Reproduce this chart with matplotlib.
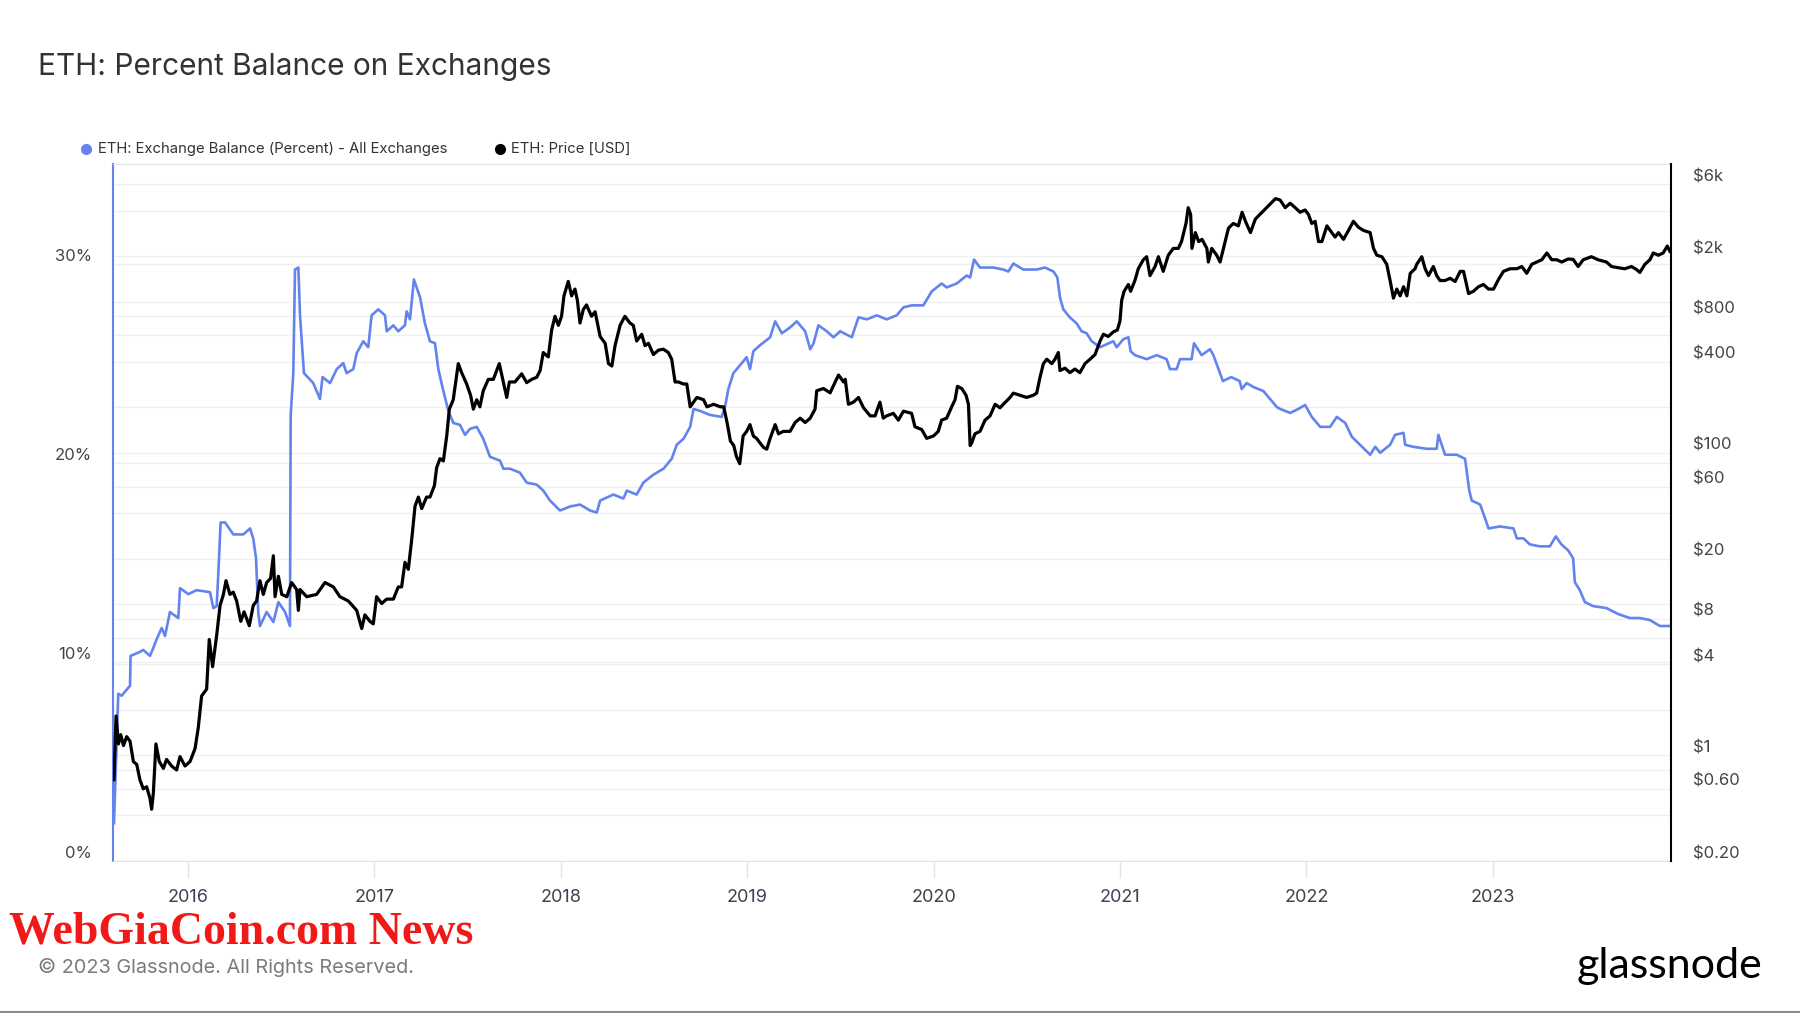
import matplotlib
matplotlib.use("Agg")
import matplotlib.pyplot as plt
from matplotlib.lines import Line2D
from matplotlib.transforms import ScaledTranslation, blended_transform_factory

# exchange balance, % of supply (x in decimal years)
bal_year = [
    2015.603, 2015.626, 2015.644, 2015.689, 2015.692, 2015.742, 2015.760, 2015.796, 2015.814, 2015.830, 2015.859, 2015.877, 2015.903, 2015.948, 2015.957,
    2016.002, 2016.046, 2016.118, 2016.136, 2016.154, 2016.163, 2016.175, 2016.199, 2016.243, 2016.297, 2016.333, 2016.350, 2016.365, 2016.377, 2016.386, 2016.422, 2016.458, 2016.485, 2016.521, 2016.547, 2016.551, 2016.565, 2016.574, 2016.592, 2016.601, 2016.622, 2016.672, 2016.708, 2016.722, 2016.762, 2016.798, 2016.833, 2016.851, 2016.887, 2016.905, 2016.940, 2016.967, 2016.985,
    2017.021, 2017.057, 2017.066, 2017.102, 2017.128, 2017.164, 2017.173, 2017.191, 2017.212, 2017.245, 2017.271, 2017.298, 2017.325, 2017.343, 2017.370, 2017.397, 2017.423, 2017.459, 2017.486, 2017.513, 2017.549, 2017.584, 2017.620, 2017.674, 2017.692, 2017.727, 2017.781, 2017.817, 2017.871, 2017.906, 2017.942, 2017.996,
    2018.049, 2018.103, 2018.157, 2018.193, 2018.211, 2018.282, 2018.336, 2018.354, 2018.407, 2018.443, 2018.497, 2018.551, 2018.595, 2018.622, 2018.658, 2018.694, 2018.712, 2018.748, 2018.800, 2018.863, 2018.881, 2018.899, 2018.926, 2018.953, 2018.997,
    2019.015, 2019.033, 2019.069, 2019.123, 2019.150, 2019.186, 2019.231, 2019.266, 2019.311, 2019.338, 2019.356, 2019.382, 2019.427, 2019.463, 2019.499, 2019.561, 2019.597, 2019.642, 2019.696, 2019.748, 2019.802, 2019.838, 2019.882, 2019.945, 2019.990,
    2020.043, 2020.070, 2020.124, 2020.178, 2020.196, 2020.217, 2020.249, 2020.321, 2020.374, 2020.401, 2020.428, 2020.481, 2020.553, 2020.598, 2020.643, 2020.664, 2020.678, 2020.696, 2020.731, 2020.767, 2020.794, 2020.821, 2020.848, 2020.893, 2020.964, 2020.982,
    2021.018, 2021.045, 2021.057, 2021.080, 2021.143, 2021.197, 2021.250, 2021.268, 2021.304, 2021.322, 2021.384, 2021.397, 2021.438, 2021.483, 2021.501, 2021.552, 2021.597, 2021.642, 2021.653, 2021.680, 2021.716, 2021.769, 2021.814, 2021.841, 2021.859, 2021.913, 2021.957, 2021.993,
    2022.029, 2022.074, 2022.127, 2022.163, 2022.208, 2022.244, 2022.288, 2022.342, 2022.369, 2022.396, 2022.449, 2022.476, 2022.521, 2022.530, 2022.573, 2022.645, 2022.699, 2022.708, 2022.744, 2022.806, 2022.851, 2022.874, 2022.887, 2022.932, 2022.959, 2022.977,
    2023.039, 2023.111, 2023.129, 2023.165, 2023.198, 2023.252, 2023.306, 2023.338, 2023.368, 2023.404, 2023.431, 2023.440, 2023.467, 2023.494, 2023.538, 2023.610, 2023.673, 2023.735, 2023.789, 2023.843, 2023.896, 2023.950,
]
bal_pct = [
    1.9, 8.4, 8.3, 8.8, 10.3, 10.5, 10.6, 10.3, 10.7, 11.1, 11.7, 11.3, 12.5, 12.2, 13.7,
    13.4, 13.6, 13.5, 12.7, 12.8, 14.5, 17.0, 17.0, 16.4, 16.4, 16.7, 16.2, 15.2, 12.5, 11.8, 12.5, 12.0, 13.0, 12.5, 11.8, 22.4, 24.5, 29.7, 29.8, 27.4, 24.5, 24.0, 23.2, 24.3, 24.0, 24.7, 25.0, 24.5, 24.7, 25.5, 26.1, 25.8, 27.4,
    27.7, 27.4, 26.6, 26.9, 26.6, 26.9, 27.6, 27.2, 29.2, 28.3, 27.0, 26.1, 26.0, 24.7, 23.6, 22.6, 22.0, 21.9, 21.4, 21.7, 21.8, 21.2, 20.3, 20.1, 19.7, 19.7, 19.5, 19.0, 18.9, 18.6, 18.1, 17.6,
    17.8, 17.9, 17.6, 17.5, 18.1, 18.4, 18.2, 18.6, 18.4, 19.0, 19.4, 19.7, 20.2, 20.9, 21.2, 21.8, 22.7, 22.6, 22.4, 22.3, 22.8, 23.7, 24.5, 24.8, 25.3,
    24.7, 25.6, 25.9, 26.3, 27.1, 26.5, 26.8, 27.1, 26.6, 25.7, 26.0, 26.9, 26.6, 26.3, 26.6, 26.3, 27.3, 27.2, 27.4, 27.2, 27.4, 27.8, 27.9, 27.9, 28.6,
    29.0, 28.8, 29.0, 29.4, 29.3, 30.2, 29.8, 29.8, 29.7, 29.6, 30.0, 29.7, 29.7, 29.8, 29.6, 29.3, 28.3, 27.7, 27.3, 27.0, 26.6, 26.5, 26.1, 25.8, 26.1, 25.8,
    26.2, 26.3, 25.6, 25.4, 25.2, 25.4, 25.2, 24.7, 24.7, 25.2, 25.2, 26.0, 25.4, 25.7, 25.4, 24.1, 24.3, 24.1, 23.7, 24.0, 23.8, 23.6, 23.1, 22.8, 22.7, 22.5, 22.7, 22.9,
    22.3, 21.8, 21.8, 22.3, 22.0, 21.3, 20.9, 20.4, 20.8, 20.5, 20.9, 21.4, 21.5, 20.9, 20.8, 20.7, 20.7, 21.4, 20.4, 20.4, 20.2, 18.6, 18.1, 17.9, 17.2, 16.7,
    16.8, 16.7, 16.2, 16.2, 15.9, 15.8, 15.8, 16.3, 15.9, 15.6, 15.2, 14.0, 13.6, 13.0, 12.8, 12.7, 12.4, 12.2, 12.2, 12.1, 11.8, 11.8,
]

# ETH price, USD
price_year = [
    2015.603, 2015.614, 2015.627, 2015.639, 2015.654, 2015.671, 2015.689, 2015.707, 2015.725, 2015.742, 2015.760, 2015.778, 2015.796, 2015.805, 2015.814, 2015.828, 2015.846, 2015.868, 2015.885, 2015.912, 2015.939, 2015.957, 2015.984,
    2016.011, 2016.038, 2016.055, 2016.073, 2016.100, 2016.114, 2016.132, 2016.154, 2016.172, 2016.190, 2016.204, 2016.225, 2016.243, 2016.261, 2016.283, 2016.301, 2016.329, 2016.350, 2016.368, 2016.386, 2016.404, 2016.422, 2016.443, 2016.458, 2016.467, 2016.485, 2016.503, 2016.530, 2016.556, 2016.583, 2016.592, 2016.601, 2016.637, 2016.690, 2016.735, 2016.780, 2016.815, 2016.860, 2016.905, 2016.932, 2016.949, 2016.976, 2016.994,
    2017.012, 2017.039, 2017.066, 2017.102, 2017.128, 2017.146, 2017.164, 2017.182, 2017.200, 2017.218, 2017.236, 2017.254, 2017.280, 2017.298, 2017.322, 2017.334, 2017.352, 2017.370, 2017.388, 2017.402, 2017.423, 2017.450, 2017.468, 2017.495, 2017.516, 2017.531, 2017.549, 2017.566, 2017.584, 2017.611, 2017.638, 2017.670, 2017.692, 2017.710, 2017.724, 2017.754, 2017.790, 2017.817, 2017.844, 2017.871, 2017.889, 2017.906, 2017.933, 2017.951, 2017.969, 2017.987,
    2018.004, 2018.017, 2018.040, 2018.058, 2018.076, 2018.089, 2018.103, 2018.121, 2018.138, 2018.165, 2018.184, 2018.211, 2018.238, 2018.256, 2018.274, 2018.291, 2018.318, 2018.344, 2018.371, 2018.389, 2018.407, 2018.434, 2018.452, 2018.470, 2018.497, 2018.524, 2018.550, 2018.577, 2018.595, 2018.613, 2018.631, 2018.658, 2018.676, 2018.694, 2018.712, 2018.730, 2018.766, 2018.784, 2018.820, 2018.856, 2018.874, 2018.892, 2018.910, 2018.928, 2018.942, 2018.960, 2018.978, 2018.997,
    2019.015, 2019.033, 2019.050, 2019.087, 2019.105, 2019.123, 2019.150, 2019.168, 2019.194, 2019.230, 2019.257, 2019.284, 2019.311, 2019.338, 2019.364, 2019.373, 2019.409, 2019.445, 2019.472, 2019.490, 2019.517, 2019.526, 2019.543, 2019.570, 2019.597, 2019.624, 2019.660, 2019.686, 2019.712, 2019.730, 2019.748, 2019.784, 2019.811, 2019.838, 2019.882, 2019.900, 2019.936, 2019.963, 2019.999,
    2020.025, 2020.043, 2020.070, 2020.097, 2020.115, 2020.128, 2020.151, 2020.174, 2020.187, 2020.196, 2020.205, 2020.222, 2020.249, 2020.276, 2020.303, 2020.330, 2020.356, 2020.374, 2020.410, 2020.428, 2020.463, 2020.499, 2020.535, 2020.553, 2020.571, 2020.589, 2020.607, 2020.634, 2020.651, 2020.669, 2020.678, 2020.705, 2020.731, 2020.758, 2020.785, 2020.812, 2020.839, 2020.866, 2020.893, 2020.911, 2020.937, 2020.964, 2020.986,
    2021.000, 2021.009, 2021.022, 2021.045, 2021.057, 2021.080, 2021.098, 2021.125, 2021.143, 2021.161, 2021.188, 2021.206, 2021.232, 2021.259, 2021.286, 2021.313, 2021.330, 2021.354, 2021.366, 2021.379, 2021.386, 2021.404, 2021.422, 2021.440, 2021.466, 2021.474, 2021.492, 2021.519, 2021.537, 2021.564, 2021.582, 2021.608, 2021.635, 2021.655, 2021.673, 2021.700, 2021.726, 2021.762, 2021.798, 2021.834, 2021.859, 2021.886, 2021.913, 2021.940, 2021.966, 2021.993,
    2022.011, 2022.029, 2022.047, 2022.065, 2022.083, 2022.110, 2022.136, 2022.154, 2022.172, 2022.199, 2022.226, 2022.252, 2022.279, 2022.306, 2022.342, 2022.360, 2022.378, 2022.405, 2022.431, 2022.449, 2022.467, 2022.485, 2022.503, 2022.521, 2022.539, 2022.557, 2022.583, 2022.592, 2022.619, 2022.637, 2022.655, 2022.681, 2022.699, 2022.717, 2022.744, 2022.771, 2022.798, 2022.825, 2022.843, 2022.870, 2022.896, 2022.923, 2022.950, 2022.977,
    2023.004, 2023.031, 2023.057, 2023.093, 2023.129, 2023.156, 2023.182, 2023.209, 2023.236, 2023.263, 2023.290, 2023.316, 2023.343, 2023.370, 2023.404, 2023.431, 2023.458, 2023.485, 2023.529, 2023.565, 2023.610, 2023.637, 2023.673, 2023.708, 2023.744, 2023.771, 2023.789, 2023.816, 2023.843, 2023.861, 2023.888, 2023.914, 2023.936, 2023.950,
]
price_usd = [
    0.69, 1.82, 1.19, 1.37, 1.16, 1.33, 1.24, 0.91, 0.87, 0.69, 0.60, 0.62, 0.52, 0.44, 0.56, 1.19, 0.91, 0.82, 0.94, 0.85, 0.80, 0.98, 0.85,
    0.91, 1.11, 1.52, 2.47, 2.74, 5.84, 3.86, 6.25, 9.8, 11.6, 14.3, 11.6, 12.0, 10.5, 7.7, 8.9, 7.2, 9.8, 10.5, 14.3, 11.6, 13.9, 14.8, 20.9, 11.2, 15.3, 11.6, 11.2, 13.9, 12.5, 9.1, 12.5, 11.2, 11.6, 13.9, 13.0, 11.2, 10.5, 9.1, 6.9, 8.5, 7.7, 7.4,
    11.2, 10.1, 10.8, 10.8, 13.0, 13.0, 18.9, 17.0, 26.6, 44.5, 51.1, 42.9, 51.1, 51.1, 60.8, 80, 91.8, 88.6, 129.5, 195, 225, 390, 340, 286, 241, 195, 225, 202, 258, 307, 307, 390, 295, 233, 295, 295, 334, 292, 307, 317, 351, 462, 432, 652, 802, 699,
    802, 1095, 1365, 1095, 1214, 1022, 724, 891, 954, 802, 860, 590, 532, 390, 376, 513, 699, 802, 724, 699, 550, 610, 513, 532, 448, 479, 486, 462, 417, 295, 295, 286, 286, 202, 217, 233, 225, 202, 210, 202, 202, 159, 120, 112, 95, 85, 129.5, 139,
    154, 129.5, 125, 109, 106, 125, 154, 134, 139, 139, 159, 170, 159, 170, 195, 258, 267, 250, 295, 328, 295, 307, 210, 217, 233, 199, 176, 176, 217, 170, 176, 183, 165, 189, 183, 149, 143, 125, 129.5,
    139, 165, 170, 202, 225, 276, 267, 241, 210, 112, 117, 134, 139, 165, 176, 210, 199, 210, 233, 249, 241, 233, 241, 249, 317, 390, 417, 390, 417, 462, 351, 364, 340, 359, 340, 390, 417, 448, 550, 610, 590, 632, 652,
    749, 1022, 1174, 1302, 1174, 1383, 1655, 1898, 1988, 1490, 1712, 1988, 1590, 2033, 2256, 2256, 2503, 3298, 4194, 3781, 2256, 2870, 2503, 2590, 2256, 1833, 2256, 2033, 1833, 2503, 3074, 3298, 3181, 3914, 3408, 2870, 3527, 3914, 4340, 4813, 4714, 4194, 4491, 4194, 3914, 4050,
    3781, 3298, 3408, 2503, 2503, 3181, 2870, 2682, 2870, 2590, 2967, 3408, 3115, 2967, 2870, 2256, 2033, 1988, 1771, 1383, 1058, 1214, 1095, 1258, 1095, 1544, 1655, 1771, 1988, 1655, 1490, 1712, 1490, 1383, 1383, 1431, 1363, 1590, 1590, 1134, 1174, 1258, 1302, 1214,
    1214, 1409, 1590, 1655, 1655, 1712, 1544, 1771, 1833, 1898, 2105, 1898, 1898, 1833, 1920, 1908, 1712, 1898, 1988, 1898, 1833, 1712, 1681, 1655, 1712, 1636, 1564, 1771, 1898, 2105, 2033, 2105, 2339, 2158,
]

years = [2016, 2017, 2018, 2019, 2020, 2021, 2022, 2023]
pct_ticks = [0, 10, 20, 30]
pct_labels = ["0%", "10%", "20%", "30%"]
price_grid = [0.2, 0.4, 0.6, 0.8, 1, 2, 4, 6, 8, 10, 20, 40, 60, 100, 200, 400, 600, 800, 1000, 2000, 4000, 6000]
price_ticks = [0.2, 0.6, 1, 4, 8, 20, 60, 100, 400, 800, 2000, 6000]
price_labels = ["$0.20", "$0.60", "$1", "$4", "$8", "$20", "$60", "$100", "$400", "$800", "$2k", "$6k"]

BLUE = "#6383ee"
GRID = "#f0f0f0"
W, H = 1800, 1013

plt.rcParams["font.family"] = ["Inter", "DejaVu Sans"]

fig = plt.figure(figsize=(W / 100, H / 100), dpi=100)
ax = fig.add_axes([112.5 / W, 152 / H, (1671 - 112.5) / W, (861 - 164) / H])
ax2 = ax.twinx()
ax2.set_yscale("log")

# gridlines for both scales, kept under the lines
for v in pct_ticks:
    ax.axhline(v, color=GRID, lw=1, zorder=0)
gtrans = blended_transform_factory(ax.transAxes, ax2.transData)
for p in price_grid:
    ax.add_line(Line2D([0, 1], [p, p], transform=gtrans, color=GRID, lw=1, zorder=0))

ax.plot(bal_year, bal_pct, color=BLUE, lw=1.9, zorder=2)
ax2.plot(price_year, price_usd, color="black", lw=2.3, zorder=3)

ax.set_xlim(2015.595, 2023.956)
ax.set_ylim(0, 35)
ax2.set_ylim(0.2, 8160)

ax.set_xticks(years)
ax.set_xticklabels([str(y) for y in years])
ax.set_yticks(pct_ticks)
ax.set_yticklabels(pct_labels)
ax2.set_yticks(price_ticks)
ax2.set_yticklabels(price_labels)
ax2.yaxis.set_minor_locator(plt.NullLocator())

ax.tick_params(axis="x", length=12, width=1, color="#e4e4e4", pad=8,
               labelsize=13, labelcolor="#3d4250")
ax.tick_params(axis="y", length=0, pad=15, labelsize=12, labelcolor="#444444")
ax2.tick_params(axis="y", which="both", length=0, pad=16, labelsize=12, labelcolor="#444444")

# glassnode puts the axis labels just above their gridline
up = ScaledTranslation(0, 9 / 100, fig.dpi_scale_trans)
for lab in ax.get_yticklabels() + ax2.get_yticklabels():
    lab.set_transform(lab.get_transform() + up)

for s in ["top", "bottom"]:
    ax.spines[s].set_color("#e4e4e4")
ax.spines["left"].set_color(BLUE)
ax.spines["left"].set_linewidth(1.5)
ax.spines["right"].set_visible(False)
for s in ["top", "bottom", "left"]:
    ax2.spines[s].set_visible(False)
ax2.spines["right"].set_color("black")
ax2.spines["right"].set_linewidth(1.5)

# title and legend
fig.text(38 / W, 1 - 75 / H, "ETH: Percent Balance on Exchanges", fontsize=21.5,
         color="#333333", va="baseline")
ly = 1 - 149 / H
fig.add_artist(Line2D([86 / W], [ly], marker="o", ms=7, color=BLUE, lw=0, transform=fig.transFigure))
fig.text(98 / W, ly, "ETH: Exchange Balance (Percent) - All Exchanges", fontsize=10.7,
         color="#333333", va="center")
fig.add_artist(Line2D([500 / W], [ly], marker="o", ms=7, color="black", lw=0, transform=fig.transFigure))
fig.text(511 / W, ly, "ETH: Price [USD]", fontsize=10.7, color="#333333", va="center")

# footer
fig.text(9 / W, 1 - 943 / H, "WebGiaCoin.com News", fontsize=33, fontweight="bold",
         color="#f21818", va="baseline",
         family=["Liberation Serif", "DejaVu Serif"])
fig.text(38 / W, 1 - 973 / H, "\u00a9 2023 Glassnode. All Rights Reserved.", fontsize=14.3,
         color="#7a7a7a", va="baseline")
fig.text(1762 / W, 1 - 978 / H, "glassnode", fontsize=31, color="black", ha="right",
         va="baseline", family=["Lato", "DejaVu Sans"])
fig.add_artist(Line2D([0, 1], [1.5 / H, 1.5 / H], color="#8a8a8a", lw=1.5, transform=fig.transFigure))

fig.savefig("out.png", dpi=100)
